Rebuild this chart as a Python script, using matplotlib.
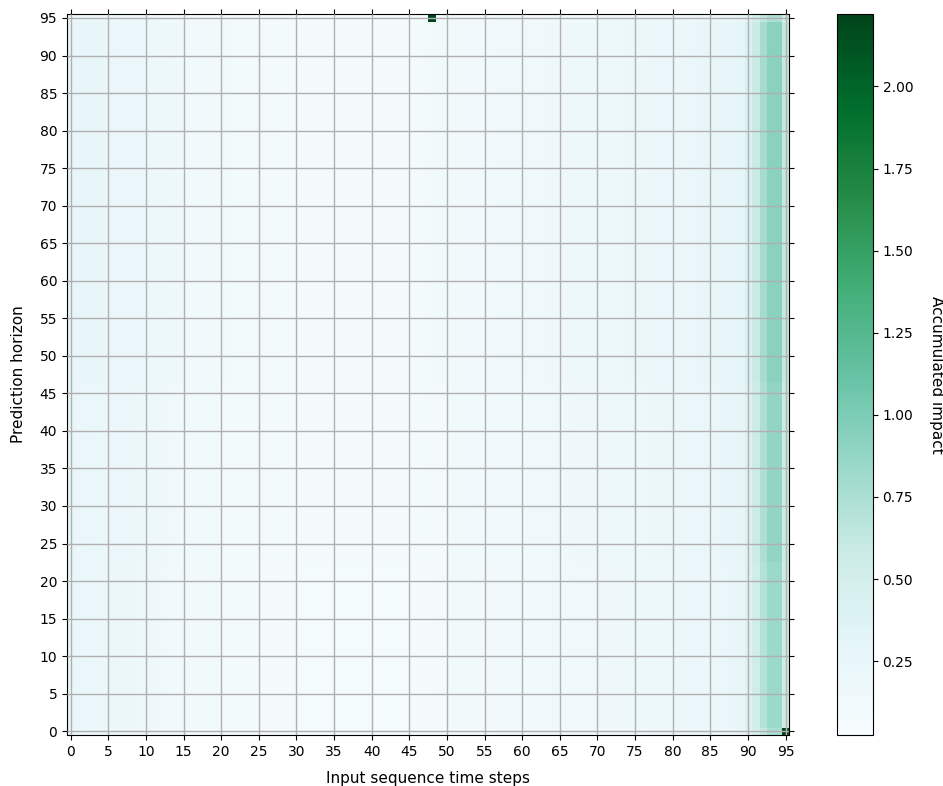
import numpy as np
import matplotlib
matplotlib.use("Agg")
import matplotlib.pyplot as plt

# Accumulated impact per input time step (columns), read left to right
col_impact = [
    0.27, 0.23, 0.23, 0.22, 0.22, 0.21, 0.21, 0.20, 0.20, 0.19,
    0.18, 0.17, 0.16, 0.15, 0.14, 0.13, 0.12, 0.12, 0.11, 0.11,
    0.10, 0.10, 0.09, 0.09, 0.09, 0.08, 0.08, 0.08, 0.08, 0.07,
    0.07, 0.07, 0.07, 0.07, 0.07, 0.07, 0.07, 0.07, 0.07, 0.07,
    0.07, 0.07, 0.07, 0.07, 0.07, 0.07, 0.07, 0.08, 0.10, 0.10,
    0.10, 0.11, 0.11, 0.11, 0.12, 0.12, 0.12, 0.13, 0.13, 0.13,
    0.13, 0.14, 0.14, 0.14, 0.15, 0.15, 0.15, 0.16, 0.16, 0.16,
    0.16, 0.17, 0.17, 0.17, 0.18, 0.18, 0.18, 0.19, 0.19, 0.19,
    0.20, 0.20, 0.21, 0.21, 0.22, 0.22, 0.23, 0.24, 0.25, 0.27,
    0.40, 0.55, 0.74, 0.88, 0.88, 0.58,
]

# Relative strength of each prediction-horizon band: (first row, last row, scale)
row_bands = [
    (0, 0, 0.85),
    (1, 22, 0.95),
    (23, 46, 1.00),
    (47, 94, 1.06),
    (95, 95, 0.85),
]

# Isolated peaks: (row, column, value)
peaks = [
    (95, 48, 2.22),
    (0, 95, 2.22),
]

x_ticks = list(range(0, 96, 5))
y_ticks = list(range(0, 96, 5))

n_rows = 96
n_cols = len(col_impact)
row_scale = np.ones(n_rows)
for r0, r1, s in row_bands:
    row_scale[r0:r1 + 1] = s
impact = np.outer(row_scale, np.array(col_impact))
for r, c, v in peaks:
    impact[r, c] = v

fig = plt.figure(figsize=(9.43, 7.86), dpi=100)
ax = fig.add_axes([0.071, 0.0649, 0.766, 0.917])
cax = fig.add_axes([0.8876, 0.0649, 0.038, 0.917])

im = ax.imshow(impact, cmap="BuGn", origin="lower", aspect="auto",
               interpolation="nearest", vmin=0.025, vmax=2.22,
               extent=(-0.5, n_cols - 0.5, -0.5, n_rows - 0.5))

ax.set_xticks(x_ticks)
ax.set_yticks(y_ticks)
ax.tick_params(axis="both", which="both", direction="out", labelsize=10,
               top=True, right=True, labeltop=False, labelright=False)
ax.grid(True, color="#b0b0b0", linewidth=1.0)
ax.set_axisbelow(False)
ax.set_xlabel("Input sequence time steps", fontsize=11, labelpad=9)
ax.set_ylabel("Prediction horizon", fontsize=11, labelpad=10)

cb = fig.colorbar(im, cax=cax)
cb.set_ticks([0.25, 0.50, 0.75, 1.00, 1.25, 1.50, 1.75, 2.00])
cb.ax.tick_params(labelsize=10)
cb.set_label("Accumulated impact", fontsize=11, rotation=270, labelpad=22)

fig.savefig("out.png", dpi=100)
